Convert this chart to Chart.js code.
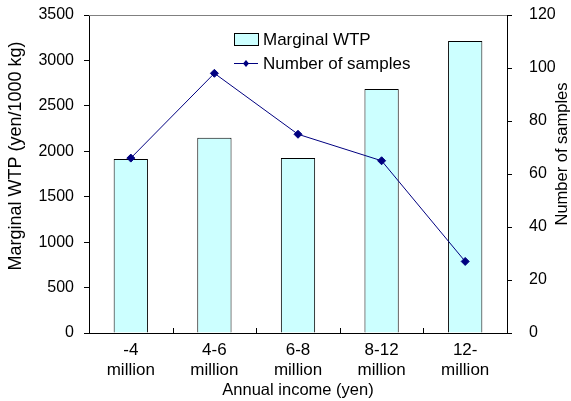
<!DOCTYPE html>
<html>
<head>
<meta charset="utf-8">
<script src="https://cdn.jsdelivr.net/npm/chart.js@4/dist/chart.umd.min.js"></script>
<style>
  html, body { margin: 0; padding: 0; background: #fff; }
  #wrap { width: 571px; height: 401px; }
</style>
</head>
<body>
<div id="wrap"><canvas id="chart" width="571" height="401"></canvas></div>
<script>
// data
const categories = [["-4", "million"], ["4-6", "million"], ["6-8", "million"], ["8-12", "million"], ["12-", "million"]];
const marginalWtp = [1915, 2150, 1925, 2685, 3215];
const sampleCounts = [66, 98, 75, 65, 27];

const FONT = "'Liberation Sans', Arial, sans-serif";

// legend, axis titles, top frame, inner x ticks
const decor = {
  id: "decor",
  afterDraw(chart) {
    const { ctx, chartArea } = chart;
    const x = chart.scales.x;
    const y1 = chart.scales.y1;
    ctx.save();
    ctx.strokeStyle = "#808080";
    ctx.lineWidth = 1;
    ctx.beginPath();
    ctx.moveTo(chartArea.left, chartArea.top + 0.5);
    ctx.lineTo(chartArea.right, chartArea.top + 0.5);
    ctx.stroke();

    // small ticks between categories, pointing up
    ctx.strokeStyle = "#000";
    const half = (x.getPixelForValue(1) - x.getPixelForValue(0)) / 2;
    for (let i = 0; i < categories.length - 1; i++) {
      const px = Math.round(x.getPixelForValue(i) + half) + 0.5;
      ctx.beginPath();
      ctx.moveTo(px, chartArea.bottom);
      ctx.lineTo(px, chartArea.bottom - 5);
      ctx.stroke();
    }

    // right axis tick marks
    for (const t of y1.ticks) {
      const py = Math.round(y1.getPixelForValue(t.value)) + 0.5;
      ctx.beginPath();
      ctx.moveTo(chartArea.right, py);
      ctx.lineTo(chartArea.right + 5, py);
      ctx.stroke();
    }

    // axis titles, both read bottom to top
    ctx.fillStyle = "#000";
    ctx.textAlign = "center";
    ctx.textBaseline = "middle";
    ctx.save();
    ctx.translate(16, 156);
    ctx.rotate(-Math.PI / 2);
    ctx.font = "18px " + FONT;
    ctx.fillText("Marginal WTP (yen/1000 kg)", 0, 0);
    ctx.restore();
    ctx.save();
    ctx.translate(562, 154);
    ctx.rotate(-Math.PI / 2);
    ctx.font = "16.5px " + FONT;
    ctx.fillText("Number of samples", 0, 0);
    ctx.restore();

    // legend
    ctx.textAlign = "left";
    const lx = 234, ly = 33;
    ctx.fillStyle = "#CCFFFF";
    ctx.fillRect(lx, ly, 24, 12);
    ctx.strokeStyle = "#000";
    ctx.strokeRect(lx + 0.5, ly + 0.5, 24, 12);
    ctx.font = "17px " + FONT;
    ctx.fillStyle = "#000";
    ctx.fillText("Marginal WTP", 263, ly + 7);

    const ly2 = 63;
    ctx.strokeStyle = "#000080";
    ctx.beginPath();
    ctx.moveTo(lx, ly2 + 0.5);
    ctx.lineTo(lx + 24, ly2 + 0.5);
    ctx.stroke();
    ctx.fillStyle = "#000080";
    ctx.beginPath();
    ctx.moveTo(lx + 12, ly2 - 3);
    ctx.lineTo(lx + 15, ly2 + 0.5);
    ctx.lineTo(lx + 12, ly2 + 4);
    ctx.lineTo(lx + 9, ly2 + 0.5);
    ctx.closePath();
    ctx.fill();
    ctx.fillStyle = "#000";
    ctx.fillText("Number of samples", 263, ly2 + 1);
    ctx.restore();
  }
};

new Chart(document.getElementById("chart"), {
  data: {
    labels: categories,
    datasets: [
      {
        type: "line",
        label: "Number of samples",
        data: sampleCounts,
        yAxisID: "y1",
        borderColor: "#000080",
        backgroundColor: "#000080",
        borderWidth: 1,
        pointStyle: "rectRot",
        pointRadius: 4,
        pointHoverRadius: 4,
        tension: 0,
        order: 0
      },
      {
        type: "bar",
        label: "Marginal WTP",
        data: marginalWtp,
        yAxisID: "y",
        backgroundColor: "#CCFFFF",
        borderColor: "#000",
        borderWidth: 1,
        barPercentage: 0.41,
        categoryPercentage: 1,
        order: 1
      }
    ]
  },
  options: {
    responsive: false,
    animation: false,
    layout: { padding: { top: 15 } },
    plugins: { legend: { display: false }, tooltip: { enabled: false } },
    scales: {
      x: {
        offset: true,
        grid: { display: false, drawTicks: false },
        border: { color: "#000" },
        ticks: { color: "#000", font: { family: FONT, size: 17 }, padding: 7, maxRotation: 0 },
        title: { display: true, text: "Annual income (yen)", color: "#000", font: { family: FONT, size: 16.5 }, padding: 1 },
        afterFit(s) { s.height = 68; }
      },
      y: {
        position: "left",
        min: 0, max: 3500,
        ticks: { stepSize: 500, color: "#000", font: { family: FONT, size: 16 }, padding: 10, callback: v => String(v) },
        grid: { drawOnChartArea: false, tickLength: 5, color: "#000" },
        border: { color: "#000" },
        afterFit(s) { s.width = 89; s.paddingTop = 0; s.paddingBottom = 0; }
      },
      y1: {
        position: "right",
        min: 0, max: 120,
        ticks: { stepSize: 20, color: "#000", font: { family: FONT, size: 16 }, padding: 14, callback: v => String(v) },
        grid: { display: false },
        border: { color: "#000" },
        afterFit(s) { s.width = 64; s.paddingTop = 0; s.paddingBottom = 0; }
      }
    }
  },
  plugins: [decor]
});
</script>
</body>
</html>
